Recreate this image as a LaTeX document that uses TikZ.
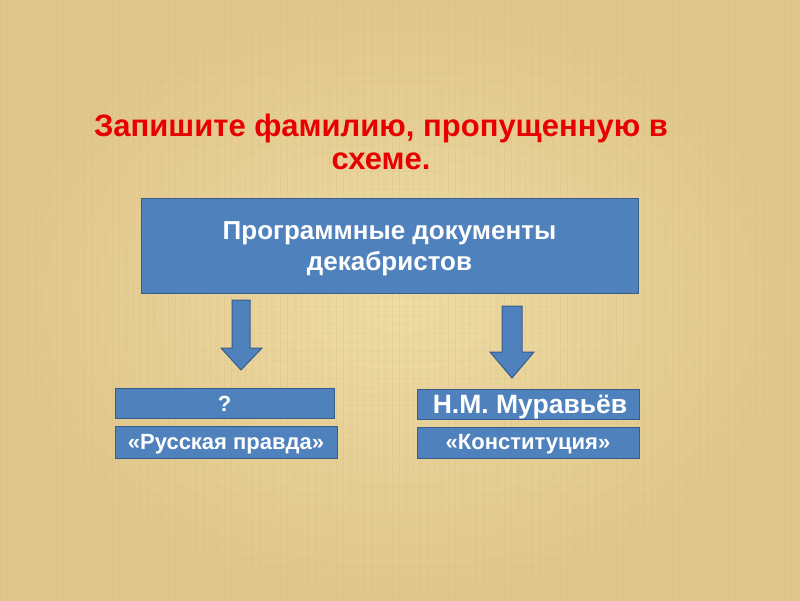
\documentclass[tikz,border=0pt]{standalone}
\usepackage{fontspec}
\setmainfont{Liberation Sans}
\definecolor{bgmid}{RGB}{238,220,165}
\definecolor{bgedge}{RGB}{224,198,138}
\definecolor{bgline}{RGB}{210,185,125}
\definecolor{boxblue}{RGB}{79,129,189}
\definecolor{boxline}{RGB}{56,93,138}
\definecolor{titlered}{RGB}{232,0,0}
\tikzset{
  bluebox/.style={draw=boxline, line width=1pt, fill=boxblue, inner sep=0pt},
  boxtext/.style={text=white, align=center, inner sep=0pt},
  blockarrow/.style={draw=boxline, line width=1pt, fill=boxblue},
}
\begin{document}
\begin{tikzpicture}[x=1pt,y=-1pt]
\useasboundingbox (0,0) rectangle (800,600);
\shade[inner color=bgmid, outer color=bgedge] (0,0) rectangle (800,600);
% faint texture
\foreach \i in {0,7,...,800} {\draw[bgline, opacity=0.22, line width=0.7pt] (\i,0) -- (\i,600);}
\foreach \j in {0,9,...,600} {\draw[bgline, opacity=0.15, line width=0.6pt] (0,\j) -- (800,\j);}

\node[font=\bfseries\fontsize{31}{33}\selectfont, text=titlered, align=center] (title) at (381,142)
  {Запишите фамилию, пропущенную в\\схеме.};

\node[bluebox, minimum width=497, minimum height=95] (main) at (389.5,245.5) {};
\node[boxtext, font=\bfseries\fontsize{26}{31}\selectfont] (maintext) at ([yshift=-3]main.center)
  {Программные документы\\декабристов};

\node[bluebox, minimum width=219, minimum height=30] (q) at (224.5,403) {};
\node[boxtext, font=\bfseries\fontsize{22}{24}\selectfont] (qt) at ([yshift=-1]q.center) {?};
\node[bluebox, minimum width=222, minimum height=32] (rp) at (226,442) {};
\node[boxtext, font=\bfseries\fontsize{22}{24}\selectfont] (rpt) at ([yshift=-2]rp.center) {«Русская правда»};
\node[bluebox, minimum width=222, minimum height=30] (mur) at (528,404) {};
\node[boxtext, font=\bfseries\fontsize{26.5}{28}\selectfont] (murt) at ([xshift=2,yshift=-3]mur.center) {Н.М. Муравьёв};
\node[bluebox, minimum width=222, minimum height=31] (kon) at (528,442.5) {};
\node[boxtext, font=\bfseries\fontsize{22}{24}\selectfont] (kont) at ([yshift=-2]kon.center) {«Конституция»};

% block arrows
\coordinate (la) at (241,300);
\coordinate (ra) at (512,306);
\draw[blockarrow] ([xshift=-9]la) -- ++(0,48) -- ++(-11,0) -- (241,370) -- (262,348) -- ++(-12,0) -- ([xshift=9]la) -- cycle;
\draw[blockarrow] ([xshift=-10]ra) -- ++(0,46) -- ++(-12,0) -- (512,378) -- (534,352) -- ++(-12,0) -- ([xshift=10]ra) -- cycle;
\end{tikzpicture}
\end{document}
